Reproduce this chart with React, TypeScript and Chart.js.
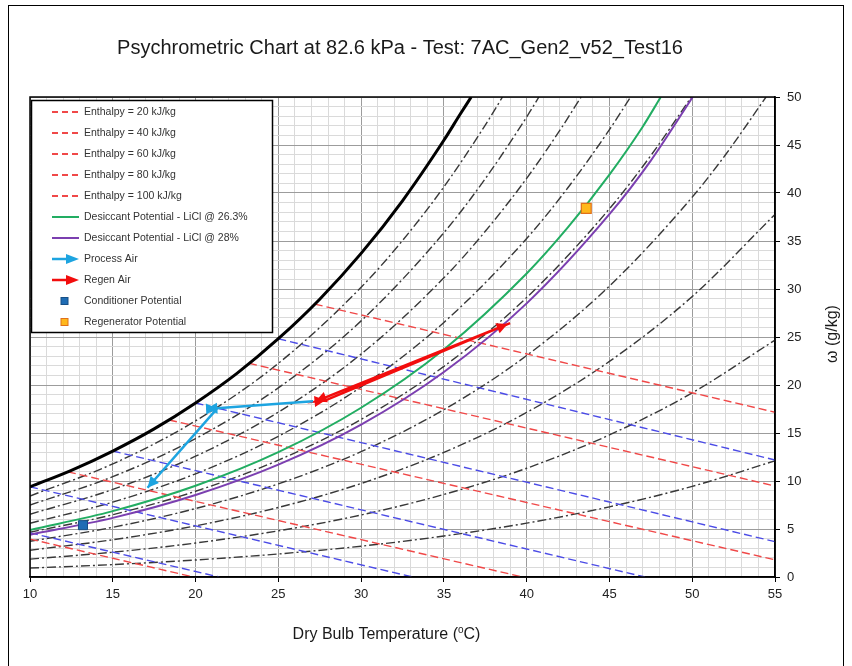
import React, { useEffect, useRef } from 'react';
import { Chart, registerables } from 'chart.js';

Chart.register(...registerables);

const FONT = '"Liberation Sans", Arial, Helvetica, sans-serif';

const TITLE = 'Psychrometric Chart at 82.6 kPa - Test: 7AC_Gen2_v52_Test16';
const X_TITLE = ['Dry Bulb Temperature (', 'o', 'C)'];
const Y_TITLE = 'ω (g/kg)';

// axis ranges (dry bulb °C, humidity ratio g/kg)
const xRange = [10, 55];
const yRange = [0, 50];

// saturation curve (100 % RH) at 82.6 kPa
const satT = [10, 12.5, 15, 17.5, 20, 22.5, 25, 27.5, 30, 32.5, 35, 36, 36.65];
const satW = [9.39, 11.11, 13.12, 15.43, 18.13, 21.21, 24.82, 28.94, 33.71, 39.19, 45.49, 48.25, 50];

// relative humidity curves, 10 % … 90 %
const rhBaseT = [10, 15, 20, 25, 30, 35, 40, 45, 50, 55];
const rh10W = [0.93, 1.29, 1.77, 2.4, 3.21, 4.27, 5.61, 7.31, 9.44, 12.1];
const rh20W = [1.86, 2.58, 3.54, 4.81, 6.46, 8.6, 11.33, 14.8, 19.18, 24.68];
const rh30W = [2.79, 3.88, 5.33, 7.24, 9.74, 12.98, 17.14, 22.46, 29.22, 37.77];
const rh40T = [10, 15, 20, 25, 30, 35, 40, 45, 50, 52, 54.46];
const rh40W = [3.72, 5.18, 7.13, 9.7, 13.06, 17.43, 23.07, 30.31, 39.57, 43.96, 50];
const rh50T = [10, 15, 20, 25, 30, 35, 40, 45, 47.5, 49.95];
const rh50W = [4.66, 6.49, 8.93, 12.17, 16.41, 21.94, 29.11, 38.36, 43.9, 50];
const rh60T = [10, 15, 20, 25, 30, 35, 40, 42.5, 45, 46.28];
const rh60W = [5.6, 7.8, 10.75, 14.66, 19.8, 26.52, 35.26, 40.57, 46.6, 50];
const rh70T = [10, 15, 20, 25, 30, 35, 37.5, 40, 42, 43.29];
const rh70W = [6.54, 9.12, 12.58, 17.17, 23.22, 31.16, 36.01, 41.53, 46.52, 50];
const rh80T = [10, 15, 20, 25, 30, 35, 37.5, 40, 40.74];
const rh80W = [7.49, 10.45, 14.42, 19.7, 26.68, 35.87, 41.49, 47.92, 50];
const rh90T = [10, 15, 20, 25, 30, 32.5, 35, 37.5, 38.54];
const rh90W = [8.44, 11.78, 16.27, 22.25, 30.18, 35.05, 40.64, 47.07, 50];

// constant enthalpy lines (kJ/kg)
const enthalpyLabels = [
  'Enthalpy = 20 kJ/kg',
  'Enthalpy = 40 kJ/kg',
  'Enthalpy = 60 kJ/kg',
  'Enthalpy = 80 kJ/kg',
  'Enthalpy = 100 kJ/kg',
];
const h20T = [10, 19.88];
const h20W = [3.95, 0];
const h40T = [12.29, 39.76];
const h40W = [10.95, 0];
const h60T = [18.4, 55];
const h60W = [16.36, 1.79];
const h80T = [23.23, 55];
const h80W = [22.26, 9.48];
const h100T = [27.2, 55];
const h100W = [28.43, 17.16];

// constant wet bulb lines, 5 … 25 °C
const wb5T = [10, 21.43];
const wb5W = [4.6, 0];
const wb10T = [10, 33.12];
const wb10W = [9.39, 0];
const wb15T = [15, 47.15];
const wb15W = [13.12, 0];
const wb20T = [20, 55];
const wb20W = [18.13, 3.68];
const wb25T = [25, 55];
const wb25W = [24.82, 12.19];

// LiCl desiccant equilibrium curves
const licl263T = [10, 15, 20, 25, 30, 35, 40, 42.5, 45, 47, 48.1];
const licl263W = [4.9, 6.86, 9.5, 13.0, 17.63, 23.7, 31.62, 36.44, 41.92, 46.88, 50];
const licl28T = [10, 15, 20, 25, 30, 35, 40, 45, 47.5, 50.03];
const licl28W = [4.4, 6.16, 8.54, 11.7, 15.87, 21.35, 28.5, 37.79, 43.38, 50];

// air streams and potentials
const processT = [27.1, 20.65, 21.3, 17.1];
const processW = [18.3, 17.5, 17.55, 9.3];
const regenT = [39.0, 27.25, 27.85, 38.85];
const regenW = [26.45, 18.3, 18.4, 26.35];
const conditionerT = [13.2];
const conditionerW = [5.4];
const regeneratorT = [43.6];
const regeneratorW = [38.4];

const legendOrder = [
  ...enthalpyLabels,
  'Desiccant Potential - LiCl @ 26.3%',
  'Desiccant Potential - LiCl @ 28%',
  'Process Air',
  'Regen Air',
  'Conditioner Potential',
  'Regenerator Potential',
];

const pts = (t: number[], w: number[]) => t.map((x, i) => ({ x, y: w[i] }));

const RED = '#F04848';
const BLUE = '#4B4BE6';
const GREY = '#383838';

function line(label: string, t: number[], w: number[], extra: any) {
  return {
    label,
    data: pts(t, w),
    showLine: true,
    pointRadius: 0,
    pointHoverRadius: 0,
    borderWidth: 1.2,
    fill: false,
    tension: 0,
    ...extra,
  };
}

function drawHead(ctx: CanvasRenderingContext2D, x1: number, y1: number, x2: number, y2: number, color: string, len: number, hw: number) {
  const a = Math.atan2(y2 - y1, x2 - x1);
  const bx = x2 - len * Math.cos(a);
  const by = y2 - len * Math.sin(a);
  ctx.beginPath();
  ctx.moveTo(x2, y2);
  ctx.lineTo(bx - hw * Math.sin(a), by + hw * Math.cos(a));
  ctx.lineTo(bx + hw * Math.sin(a), by - hw * Math.cos(a));
  ctx.closePath();
  ctx.fillStyle = color;
  ctx.fill();
}

const decorPlugin = {
  id: 'psychroDecor',
  beforeDraw(chart: any) {
    const ctx = chart.ctx as CanvasRenderingContext2D;
    ctx.save();
    ctx.fillStyle = '#fff';
    ctx.fillRect(0, 0, chart.width, chart.height);
    ctx.strokeStyle = '#000';
    ctx.lineWidth = 1;
    ctx.strokeRect(8.5, 5.5, 835, 700);
    ctx.restore();
  },
  afterDatasetsDraw(chart: any) {
    const ctx = chart.ctx as CanvasRenderingContext2D;
    const area = chart.chartArea;
    ctx.save();
    chart.data.datasets.forEach((ds: any, i: number) => {
      if (!ds.arrows) return;
      const p = chart.getDatasetMeta(i).data;
      for (let j = 1; j < p.length; j++) {
        drawHead(ctx, p[j - 1].x, p[j - 1].y, p[j].x, p[j].y, ds.borderColor, 11, 5.5);
      }
    });
    ctx.strokeStyle = '#000';
    ctx.lineWidth = 1.5;
    ctx.strokeRect(area.left, area.top, area.right - area.left, area.bottom - area.top);
    ctx.restore();
  },
  afterDraw(chart: any) {
    const ctx = chart.ctx as CanvasRenderingContext2D;
    ctx.save();
    ctx.fillStyle = '#1a1a1a';
    ctx.textBaseline = 'middle';
    ctx.textAlign = 'center';
    ctx.font = `20px ${FONT}`;
    ctx.fillText(TITLE, 400, 48);

    // x axis title with superscript degree
    ctx.textAlign = 'left';
    ctx.textBaseline = 'alphabetic';
    ctx.font = `16px ${FONT}`;
    const w1 = ctx.measureText(X_TITLE[0]).width;
    const w3 = ctx.measureText(X_TITLE[2]).width;
    ctx.font = `10px ${FONT}`;
    const w2 = ctx.measureText(X_TITLE[1]).width;
    const x0 = 386.5 - (w1 + w2 + w3) / 2;
    const base = 639;
    ctx.font = `16px ${FONT}`;
    ctx.fillText(X_TITLE[0], x0, base);
    ctx.font = `10px ${FONT}`;
    ctx.fillText(X_TITLE[1], x0 + w1, base - 6);
    ctx.font = `16px ${FONT}`;
    ctx.fillText(X_TITLE[2], x0 + w1 + w2, base);

    // y axis title
    ctx.save();
    ctx.translate(833, 334);
    ctx.rotate(-Math.PI / 2);
    ctx.textAlign = 'center';
    ctx.textBaseline = 'middle';
    ctx.font = `16px ${FONT}`;
    ctx.fillText(Y_TITLE, 0, 0);
    ctx.restore();

    // legend
    const lx = 31.5, ly = 100.5, lw = 241, lh = 232;
    ctx.fillStyle = '#fff';
    ctx.fillRect(lx, ly, lw, lh);
    ctx.strokeStyle = '#000';
    ctx.lineWidth = 1.5;
    ctx.strokeRect(lx, ly, lw, lh);
    ctx.font = `10.5px ${FONT}`;
    ctx.textBaseline = 'middle';
    ctx.textAlign = 'left';
    legendOrder.forEach((label, k) => {
      const ds: any = chart.data.datasets.find((d: any) => d.label === label);
      if (!ds) return;
      const y = 112 + k * 21;
      const sx0 = 52, sx1 = 79;
      if (ds.legendKind === 'marker') {
        ctx.fillStyle = ds.backgroundColor;
        ctx.strokeStyle = ds.borderColor;
        ctx.lineWidth = 1;
        ctx.fillRect(61, y - 3.5, 7, 7);
        ctx.strokeRect(61, y - 3.5, 7, 7);
      } else if (ds.legendKind === 'arrow') {
        ctx.strokeStyle = ds.borderColor;
        ctx.lineWidth = 2.5;
        ctx.setLineDash([]);
        ctx.beginPath();
        ctx.moveTo(sx0, y);
        ctx.lineTo(sx1 - 8, y);
        ctx.stroke();
        drawHead(ctx, sx0, y, sx1, y, ds.borderColor, 13, 5);
      } else {
        ctx.strokeStyle = ds.borderColor;
        ctx.lineWidth = 2;
        ctx.setLineDash(ds.legendDash || []);
        ctx.beginPath();
        ctx.moveTo(sx0, y);
        ctx.lineTo(sx1, y);
        ctx.stroke();
        ctx.setLineDash([]);
      }
      ctx.fillStyle = '#333';
      ctx.fillText(label, 84, y);
    });
    ctx.restore();
  },
};

export default function App() {
  const canvasRef = useRef<HTMLCanvasElement | null>(null);

  useEffect(() => {
    const canvas = canvasRef.current;
    if (!canvas) return;

    const rhDash = () => ({ borderColor: GREY, borderDash: [9, 3, 2, 3], borderWidth: 1.4, cubicInterpolationMode: 'monotone' });
    const enthalpyStyle = () => ({ borderColor: RED, borderDash: [8, 4], borderWidth: 1.4, legendDash: [6, 4] });
    const wetBulbStyle = () => ({ borderColor: BLUE, borderDash: [8, 4], borderWidth: 1.4 });

    const datasets: any[] = [
      {
        label: 'Conditioner Potential',
        data: pts(conditionerT, conditionerW),
        pointStyle: 'rect',
        pointRadius: 6.4,
        backgroundColor: '#1F6CB4',
        borderColor: '#174F86',
        borderWidth: 1,
        showLine: false,
        legendKind: 'marker',
      },
      {
        label: 'Regenerator Potential',
        data: pts(regeneratorT, regeneratorW),
        pointStyle: 'rect',
        pointRadius: 7,
        backgroundColor: '#FFB81C',
        borderColor: '#E0701A',
        borderWidth: 1.2,
        showLine: false,
        legendKind: 'marker',
      },
      line('Process Air', processT, processW, { borderColor: '#1DA4E0', borderWidth: 2.5, arrows: true, legendKind: 'arrow' }),
      line('Regen Air', regenT, regenW, { borderColor: '#F20D0D', borderWidth: 2.5, arrows: true, legendKind: 'arrow' }),
      line('Desiccant Potential - LiCl @ 26.3%', licl263T, licl263W, { borderColor: '#22AD62', borderWidth: 2, cubicInterpolationMode: 'monotone' }),
      line('Desiccant Potential - LiCl @ 28%', licl28T, licl28W, { borderColor: '#7B3FB0', borderWidth: 2, cubicInterpolationMode: 'monotone' }),
      line('Saturation', satT, satW, { borderColor: '#000', borderWidth: 3, cubicInterpolationMode: 'monotone' }),
      line(enthalpyLabels[0], h20T, h20W, enthalpyStyle()),
      line(enthalpyLabels[1], h40T, h40W, enthalpyStyle()),
      line(enthalpyLabels[2], h60T, h60W, enthalpyStyle()),
      line(enthalpyLabels[3], h80T, h80W, enthalpyStyle()),
      line(enthalpyLabels[4], h100T, h100W, enthalpyStyle()),
      line('Wet bulb 5', wb5T, wb5W, wetBulbStyle()),
      line('Wet bulb 10', wb10T, wb10W, wetBulbStyle()),
      line('Wet bulb 15', wb15T, wb15W, wetBulbStyle()),
      line('Wet bulb 20', wb20T, wb20W, wetBulbStyle()),
      line('Wet bulb 25', wb25T, wb25W, wetBulbStyle()),
      line('RH 90%', rh90T, rh90W, rhDash()),
      line('RH 80%', rh80T, rh80W, rhDash()),
      line('RH 70%', rh70T, rh70W, rhDash()),
      line('RH 60%', rh60T, rh60W, rhDash()),
      line('RH 50%', rh50T, rh50W, rhDash()),
      line('RH 40%', rh40T, rh40W, rhDash()),
      line('RH 30%', rhBaseT, rh30W, rhDash()),
      line('RH 20%', rhBaseT, rh20W, rhDash()),
      line('RH 10%', rhBaseT, rh10W, rhDash()),
    ];

    const isMajor = (v: number) => Math.abs(v % 5) < 1e-6;
    const gridColor = (c: any) => (isMajor(c.tick.value) ? '#9c9c9c' : '#dadada');
    const tickColor = (c: any) => (isMajor(c.tick.value) ? '#000' : 'rgba(0,0,0,0)');
    const label = (v: any) => (isMajor(Number(v)) ? String(v) : '');

    const chart = new Chart(canvas, {
      type: 'scatter',
      data: { datasets },
      plugins: [decorPlugin],
      options: {
        responsive: false,
        animation: false,
        devicePixelRatio: 1,
        layout: { padding: { left: 30, top: 97, right: 0, bottom: 0 } },
        plugins: { legend: { display: false }, tooltip: { enabled: false } },
        events: [],
        scales: {
          x: {
            type: 'linear',
            position: 'bottom',
            min: xRange[0],
            max: xRange[1],
            ticks: {
              stepSize: 1,
              autoSkip: false,
              maxRotation: 0,
              callback: label,
              font: { family: FONT, size: 13 },
              color: '#222',
              padding: 5,
            },
            grid: { color: gridColor, lineWidth: 1, tickLength: 5, tickColor },
            border: { display: true, color: '#000', width: 1.5 },
            afterFit: (s: any) => {
              s.height = 89;
            },
          },
          y: {
            type: 'linear',
            position: 'right',
            min: yRange[0],
            max: yRange[1],
            ticks: {
              stepSize: 1,
              autoSkip: false,
              callback: label,
              font: { family: FONT, size: 13 },
              color: '#222',
              padding: 7,
            },
            grid: { color: gridColor, lineWidth: 1, tickLength: 5, tickColor },
            border: { display: true, color: '#000', width: 1.5 },
            afterFit: (s: any) => {
              s.width = 77;
            },
          },
        },
      } as any,
    });

    return () => chart.destroy();
  }, []);

  return (
    <div style={{ position: 'absolute', left: 0, top: 0, width: 852, height: 666, background: '#fff' }}>
      <canvas ref={canvasRef} width={852} height={666} style={{ display: 'block' }} />
    </div>
  );
}
